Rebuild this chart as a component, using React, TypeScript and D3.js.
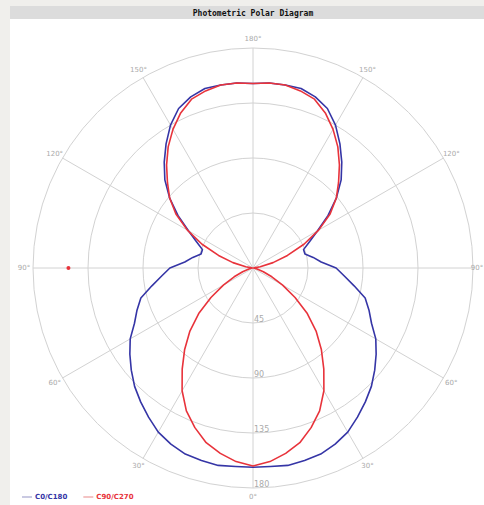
import React, { useEffect, useRef } from "react";
import * as d3 from "d3";

// gamma angles (deg from nadir) and intensity values
const gammaAngles = d3.range(0, 181, 5);
const c0c180 = [
  163, 163, 164, 163, 162, 159, 155, 149, 143, 137, 130, 123, 116, 107, 101, 95,
  84, 75, 68, 56, 50, 44, 44, 51, 61, 75, 89, 102, 113, 124, 135, 144, 149, 152,
  152, 152, 151,
];
const c90c270 = [
  162, 159, 154, 148, 139, 129, 116, 101, 87, 73, 58, 42, 28, 17, 9, 4, 1.5, 0.5,
  0, 1, 6, 17, 30, 46, 62, 77, 89, 99, 110, 121, 131, 140, 147, 150, 152, 152,
  151,
];
const ringValues = [45, 90, 135, 180];
const spokeAngles = d3.range(0, 360, 30);
const angleLabels = ["0°", "30°", "60°", "90°", "120°", "150°", "180°"];
const strayPoint = { gamma: 90, value: 151, side: -1 };
const seriesNames = ["C0/C180", "C90/C270"];
const seriesColors = ["#3535a6", "#e8333b"];

const App = () => {
  const svgRef = useRef(null);

  useEffect(() => {
    const width = 484;
    const height = 505;
    const cx = 253;
    const cy = 268;
    const radius = 220;

    const svg = d3.select(svgRef.current);
    svg.selectAll("*").remove();
    svg.attr("width", width).attr("height", height);

    // page frame + title bar
    svg.append("rect").attr("width", width).attr("height", height).attr("fill", "#f0efec");
    svg.append("rect").attr("x", 10).attr("y", 19).attr("width", width - 10).attr("height", height - 19).attr("fill", "#ffffff");
    svg.append("rect").attr("x", 10).attr("y", 6).attr("width", width - 10).attr("height", 13).attr("fill", "#dcdcdc");
    svg
      .append("text")
      .attr("x", cx)
      .attr("y", 13)
      .attr("text-anchor", "middle")
      .attr("dominant-baseline", "central")
      .style("font-family", "DejaVu Sans Mono, monospace")
      .style("font-weight", "bold")
      .style("font-size", "8px")
      .style("fill", "#111")
      .text("Photometric Polar Diagram");

    const r = d3.scaleLinear().domain([0, 180]).range([0, radius]);
    const g = svg.append("g").attr("transform", `translate(${cx},${cy})`);

    // rings
    g.selectAll("circle.ring")
      .data(ringValues)
      .enter()
      .append("circle")
      .attr("class", "ring")
      .attr("r", (d) => r(d))
      .attr("fill", "none")
      .attr("stroke", "#d2d2d2")
      .attr("stroke-width", 1);

    // spokes (angle measured from nadir)
    const rad = (deg) => (deg * Math.PI) / 180;
    g.selectAll("line.spoke")
      .data(spokeAngles)
      .enter()
      .append("line")
      .attr("x1", 0)
      .attr("y1", 0)
      .attr("x2", (d) => radius * Math.sin(rad(d)))
      .attr("y2", (d) => radius * Math.cos(rad(d)))
      .attr("stroke", "#d2d2d2")
      .attr("stroke-width", 1);

    // angle labels on both sides
    const labelR = 229;
    const labelData = [];
    angleLabels.forEach((t, i) => {
      const a = i * 30;
      labelData.push({ t, a, side: 1 });
      if (a > 0 && a < 180) labelData.push({ t, a, side: -1 });
    });
    g.selectAll("text.ang")
      .data(labelData)
      .enter()
      .append("text")
      .attr("x", (d) => {
        const px = d.side * labelR * Math.sin(rad(d.a));
        // keep the right-hand 90° label inside the page
        return Math.min(px, width - cx - 7);
      })
      .attr("y", (d) => labelR * Math.cos(rad(d.a)))
      .attr("text-anchor", "middle")
      .attr("dominant-baseline", "central")
      .style("font-family", "DejaVu Sans, sans-serif")
      .style("font-size", "7px")
      .style("fill", "#aaaaaa")
      .text((d) => d.t);

    // radial value labels along the lower vertical axis
    g.selectAll("text.val")
      .data(ringValues)
      .enter()
      .append("text")
      .attr("x", 1)
      .attr("y", (d) => r(d) - 1.5)
      .style("font-family", "DejaVu Sans, sans-serif")
      .style("font-size", "8px")
      .style("fill", "#aaaaaa")
      .text((d) => d);

    // polar curves: right side gamma 0..180, left side mirrored back
    const curvePoints = (values) => {
      const right = gammaAngles.map((gm, i) => [Math.PI - rad(gm), r(values[i])]);
      const left = gammaAngles
        .map((gm, i) => [Math.PI + rad(gm), r(values[i])])
        .reverse();
      return right.concat(left);
    };
    const line = d3
      .lineRadial()
      .angle((d) => d[0])
      .radius((d) => d[1])
      .curve(d3.curveLinearClosed);

    [c0c180, c90c270].forEach((vals, i) => {
      g.append("path")
        .attr("d", line(curvePoints(vals)))
        .attr("fill", "none")
        .attr("stroke", seriesColors[i])
        .attr("stroke-width", 1.6)
        .attr("stroke-linejoin", "round");
    });

    g.append("circle")
      .attr("cx", strayPoint.side * r(strayPoint.value) * Math.sin(rad(strayPoint.gamma)))
      .attr("cy", r(strayPoint.value) * Math.cos(rad(strayPoint.gamma)))
      .attr("r", 2)
      .attr("fill", seriesColors[1]);

    // legend
    const legend = svg.append("g").attr("transform", "translate(22,497)");
    let x = 0;
    seriesNames.forEach((name, i) => {
      legend
        .append("line")
        .attr("x1", x)
        .attr("x2", x + 10)
        .attr("y1", 0)
        .attr("y2", 0)
        .attr("stroke", i === 0 ? "#b8b8d8" : "#f0b0b0")
        .attr("stroke-width", 1.5);
      const t = legend
        .append("text")
        .attr("x", x + 13)
        .attr("y", 0)
        .attr("dominant-baseline", "central")
        .style("font-family", "DejaVu Sans, sans-serif")
        .style("font-weight", "bold")
        .style("font-size", "7px")
        .style("fill", seriesColors[i])
        .text(name);
      x += 13 + t.node().getComputedTextLength() + 16;
    });
  }, []);

  return (
    <div style={{ position: "absolute", left: 0, top: 0 }}>
      <svg ref={svgRef} style={{ display: "block" }} />
    </div>
  );
};

export default App;
